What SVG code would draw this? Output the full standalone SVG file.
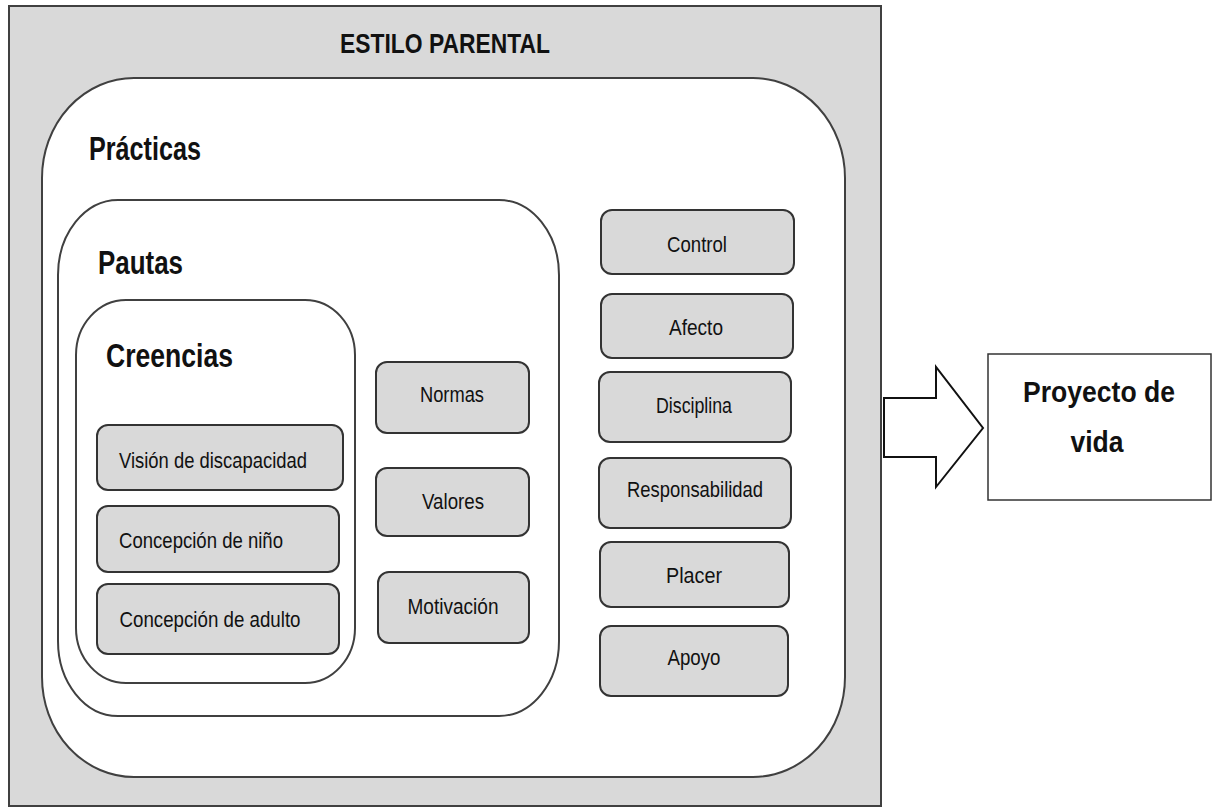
<svg xmlns="http://www.w3.org/2000/svg" width="1216" height="812" viewBox="0 0 1216 812">
<style>
.frame{fill:#d9d9d9;stroke:#404040;stroke-width:2}
.zone{fill:#ffffff;stroke:#404040;stroke-width:2}
.box{fill:#d9d9d9;stroke:#333333;stroke-width:2}
.t{font-family:"Liberation Sans",Arial,sans-serif;fill:#111111}
.lbl{font-size:22px;text-anchor:middle}
.hd{font-size:33px;font-weight:bold}
</style>
<rect width="1216" height="812" fill="#ffffff"/>
<g id="estilo-parental">
<rect class="frame" x="9" y="6" width="872" height="800"/>
<text class="t" x="445" y="53" font-size="28" font-weight="bold" text-anchor="middle" textLength="210" lengthAdjust="spacingAndGlyphs">ESTILO PARENTAL</text>
</g>
<g id="practicas">
<rect class="zone" x="42" y="78" width="803" height="699" rx="92" ry="100"/>
<text class="t hd" x="89" y="160" textLength="112" lengthAdjust="spacingAndGlyphs">Prácticas</text>
</g>
<g id="pautas">
<rect class="zone" x="58" y="200" width="501" height="516" rx="60" ry="75"/>
<text class="t hd" x="98" y="274" textLength="85" lengthAdjust="spacingAndGlyphs">Pautas</text>
</g>
<g id="creencias">
<rect class="zone" x="76" y="300" width="279" height="383" rx="50" ry="55"/>
<text class="t hd" x="106" y="367" textLength="127" lengthAdjust="spacingAndGlyphs">Creencias</text>
</g>
<g id="vision">
<rect class="box" x="97" y="425" width="246" height="65" rx="11"/>
<text class="t lbl" x="213" y="468" textLength="188" lengthAdjust="spacingAndGlyphs">Visión de discapacidad</text>
</g>
<g id="concepcion-nino">
<rect class="box" x="97" y="506" width="242" height="66" rx="11"/>
<text class="t lbl" x="201" y="548" textLength="164" lengthAdjust="spacingAndGlyphs">Concepción de niño</text>
</g>
<g id="concepcion-adulto">
<rect class="box" x="97" y="584" width="242" height="70" rx="11"/>
<text class="t lbl" x="210" y="627" textLength="181" lengthAdjust="spacingAndGlyphs">Concepción de adulto</text>
</g>
<g id="normas">
<rect class="box" x="376" y="362" width="153" height="71" rx="11"/>
<text class="t lbl" x="452" y="402" textLength="64" lengthAdjust="spacingAndGlyphs">Normas</text>
</g>
<g id="valores">
<rect class="box" x="376" y="468" width="153" height="68" rx="11"/>
<text class="t lbl" x="453" y="509" textLength="62" lengthAdjust="spacingAndGlyphs">Valores</text>
</g>
<g id="motivacion">
<rect class="box" x="378" y="572" width="151" height="71" rx="11"/>
<text class="t lbl" x="453" y="614" textLength="91" lengthAdjust="spacingAndGlyphs">Motivación</text>
</g>
<g id="control">
<rect class="box" x="601" y="210" width="193" height="64" rx="11"/>
<text class="t lbl" x="697" y="252" textLength="60" lengthAdjust="spacingAndGlyphs">Control</text>
</g>
<g id="afecto">
<rect class="box" x="601" y="294" width="192" height="64" rx="11"/>
<text class="t lbl" x="696" y="335" textLength="54" lengthAdjust="spacingAndGlyphs">Afecto</text>
</g>
<g id="disciplina">
<rect class="box" x="599" y="372" width="192" height="70" rx="11"/>
<text class="t lbl" x="694" y="413" textLength="76" lengthAdjust="spacingAndGlyphs">Disciplina</text>
</g>
<g id="responsabilidad">
<rect class="box" x="599" y="458" width="192" height="70" rx="11"/>
<text class="t lbl" x="695" y="497" textLength="136" lengthAdjust="spacingAndGlyphs">Responsabilidad</text>
</g>
<g id="placer">
<rect class="box" x="600" y="542" width="189" height="65" rx="11"/>
<text class="t lbl" x="694" y="583" textLength="56" lengthAdjust="spacingAndGlyphs">Placer</text>
</g>
<g id="apoyo">
<rect class="box" x="600" y="626" width="188" height="70" rx="11"/>
<text class="t lbl" x="694" y="665" textLength="53" lengthAdjust="spacingAndGlyphs">Apoyo</text>
</g>
<g id="connectors">
<path d="M884,398 H936 V367 L983,428 L936,487 V457 H884 Z" fill="#ffffff" stroke="#111111" stroke-width="2" stroke-linejoin="miter"/>
</g>
<g id="proyecto-de-vida">
<rect x="988" y="354" width="223" height="146" fill="#ffffff" stroke="#333333" stroke-width="1.5"/>
<text class="t" x="1099" y="402" font-size="30" font-weight="bold" text-anchor="middle" textLength="152" lengthAdjust="spacingAndGlyphs">Proyecto de</text>
<text class="t" x="1097" y="452" font-size="30" font-weight="bold" text-anchor="middle" textLength="53" lengthAdjust="spacingAndGlyphs">vida</text>
</g>
</svg>
